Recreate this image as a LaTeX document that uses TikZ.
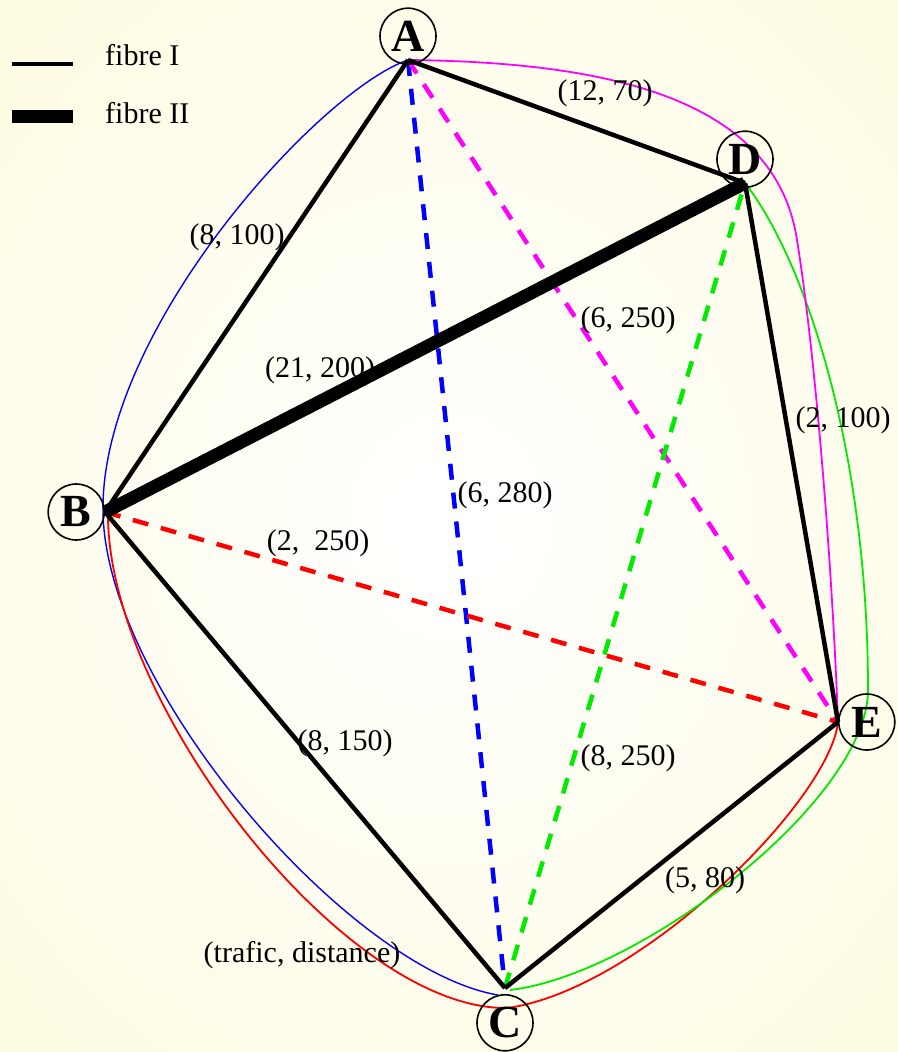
\documentclass[tikz,border=0pt]{standalone}
\usepackage{fontspec}
\newfontfamily\labelfont{Liberation Serif}
\usetikzlibrary{positioning}
\definecolor{pink}{RGB}{255,0,255}
\definecolor{lime}{RGB}{0,235,0}
\definecolor{paper}{RGB}{255,252,228}

\begin{document}
\begin{tikzpicture}[x=1pt, y=-1pt,
    lbl/.style={font=\labelfont\fontsize{30}{36}\selectfont, inner sep=1pt},
    vertex/.style={circle, draw, line width=1.6pt, minimum size=56pt, inner sep=0pt,
        font=\labelfont\bfseries\fontsize{46}{46}\selectfont},
    fibreI/.style={line width=4.5pt},
    fibreII/.style={line width=13pt},
    direct/.style={line width=4.5pt, dash pattern=on 16pt off 13pt},
    route/.style={line width=1.8pt}]
    \useasboundingbox (0,0) rectangle (897,1052);
    \shade[inner color=white, outer color=paper] (-150,-150) rectangle (1047,1202);

    % vertices
    \coordinate (A) at (408,60);
    \coordinate (D) at (745,183);
    \coordinate (B) at (105,512);
    \coordinate (E) at (838,722);
    \coordinate (C) at (505,988);

    % routes
    \draw[route, blue, line width=1.4pt] (A) .. controls (320,90) and (100,330) .. (103,512)
        .. controls (106,690) and (350,970) .. (498,995);
    \draw[route, red] (108,515) .. controls (108,705) and (345,1010) .. (507,1008)
        .. controls (640,990) and (830,800) .. (E);
    \draw[route, lime] (510,990) .. controls (640,975) and (868,800) .. (868,690)
        .. controls (868,450) and (805,260) .. (D);
    \draw[route, pink] (A) .. controls (600,62) and (775,95) .. (797,240)
        .. controls (815,352) and (832,560) .. (E);

    % direct links
    \draw[direct, blue] (A) -- (C);
    \draw[direct, pink] (A) -- (E);
    \draw[direct, red] (B) -- (E);
    \draw[direct, lime] (C) -- (D);

    % fibres
    \foreach \u/\v in {A/B, A/D, D/E, B/C, C/E}
        \draw[fibreI] (\u) -- (\v);
    \draw[fibreII] (B) -- (D);

    \node[vertex, above=-5pt of A] (nA) {A};
    \node[vertex, above=-5pt of D] (nD) {D};
    \node[vertex, left=0pt of B] (nB) {B};
    \node[vertex, right=0pt of E] (nE) {E};
    \node[vertex, below=6pt of C] (nC) {C};

    \node[lbl] (lAB) at (237,237) {(8, 100)};
    \node[lbl] (lAD) at (605,93) {(12, 70)};
    \node[lbl] (lBD) at (320,370) {(21, 200)};
    \node[lbl] (lAE) at (628,320) {(6, 250)};
    \node[lbl] (lDE) at (843,420) {(2, 100)};
    \node[lbl] (lAC) at (505,495) {(6, 280)};
    \node[lbl] (lBE) at (318,543) {(2, \ 250)};
    \node[lbl] (lBC) at (345,743) {(8, 150)};
    \node[lbl] (lCD) at (628,758) {(8, 250)};
    \node[lbl] (lCE) at (705,880) {(5, 80)};
    \node[lbl] (lkey) at (302,955) {(trafic, distance)};

    % legend
    \coordinate (k1a) at (12,64);  \coordinate (k1b) at (73,64);
    \coordinate (k2a) at (12,116); \coordinate (k2b) at (73,116);
    \draw[fibreI] (k1a) -- (k1b);
    \draw[fibreII] (k2a) -- (k2b);
    \node[lbl, anchor=base west] (kI) at (104,65) {fibre I};
    \node[lbl, anchor=base west] (kII) at (104,123) {fibre II};
\end{tikzpicture}
\end{document}
